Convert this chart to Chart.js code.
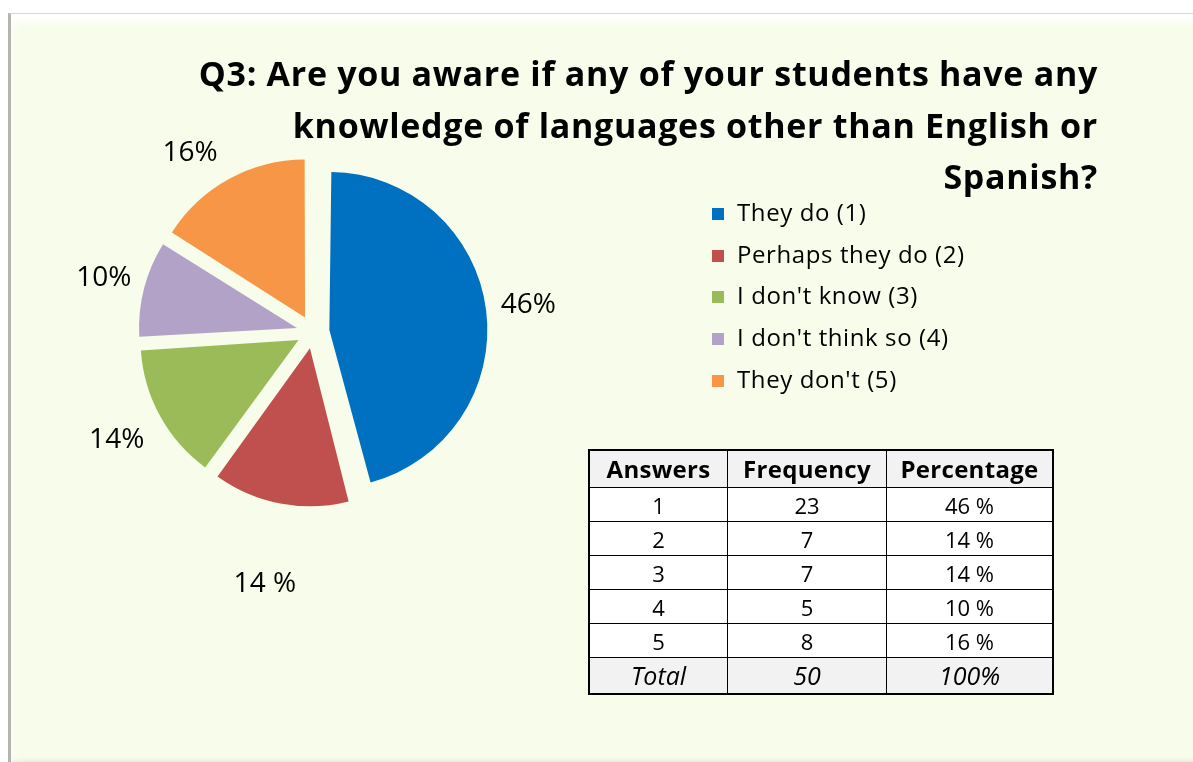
<!DOCTYPE html>
<html>
<head>
<meta charset="utf-8">
<script src="https://cdn.jsdelivr.net/npm/chart.js@4"></script>
<style>
  html, body { margin: 0; padding: 0; background: #fff; }
  body { width: 1193px; height: 762px; position: relative; overflow: hidden; font-family: "Open Sans", Lato, sans-serif; color: #000; }
  #frame {
    position: absolute; left: 8px; top: 13px; width: 1190px; height: 752px;
    background: #f7fdea;
    border-top: 1px solid #d8d8d0; border-left: 3px solid #b4b6ae;
    box-shadow: inset 6px 12px 8px -4px #fff, inset 0 -6px 6px -3px #d0d4c4;
  }
  #pie { position: absolute; left: 0; top: 0; }
  #title {
    position: absolute; right: 95px; top: 48px; width: 1000px;
    text-align: right; font-weight: bold; font-size: 34px; letter-spacing: 0.7px; line-height: 51.5px;
  }
  #legend { position: absolute; left: 712px; top: 191px; margin: 0; padding: 0; list-style: none; font-size: 24px; letter-spacing: 0.6px; }
  #legend li { height: 41.7px; line-height: 41.7px; white-space: nowrap; }
  #legend span.box { display: inline-block; width: 12px; height: 12px; margin-right: 13px; vertical-align: 1px; }
  #tbl { position: absolute; left: 588px; top: 449px; border-collapse: collapse; border: 2px solid #000; }
  #tbl td, #tbl th { border: 1px solid #000; text-align: center; padding: 0; font-size: 22px; line-height: 1; }
  #tbl th { font-size: 24px; letter-spacing: 0.3px; background: #f2f2f2; height: 36px; }
  #tbl td { background: #fff; height: 33px; }
  #tbl tr.total td { background: #f2f2f2; font-style: italic; font-size: 25px; height: 35px; }
</style>
</head>
<body>
<div id="frame"></div>
<canvas id="pie" width="626" height="664"></canvas>
<div id="title">Q3: Are you aware if any of your students have any<br>knowledge of languages other than English or<br>Spanish?</div>
<ul id="legend"></ul>
<table id="tbl"></table>
<script>
// data
const categories = ["They do (1)", "Perhaps they do (2)", "I don't know (3)", "I don't think so (4)", "They don't (5)"];
const answers = ["1", "2", "3", "4", "5"];
const frequency = [23, 7, 7, 5, 8];
const pieLabels = ["46%", "14 %", "14%", "10%", "16%"];
const tablePct = ["46 %", "14 %", "14 %", "10 %", "16 %"];
const tableHead = ["Answers", "Frequency", "Percentage"];
const totalRow = ["Total", "50", "100%"];

// looks
const colors = ["#0070c0", "#c0504d", "#9bbb59", "#b3a2c7", "#f79646"];
const labelDist = [217, 257, 224, 216, 217];
const labelTurn = [0, 0, 0, 0, -0.1];
const GAP = 16.5; // how far each slice is pulled out

// Chart.js grows the radius of pulled-out slices by offset*fix, undo that so all slices stay the same size
const evenOffset = {
  id: 'evenOffset',
  beforeDatasetsDraw(chart) {
    const meta = chart.getDatasetMeta(0);
    const base = meta.controller.outerRadius;
    meta.data.forEach(arc => {
      const fix = 1 - Math.sin(Math.min(Math.PI, arc.circumference));
      arc.outerRadius = base - GAP * fix;
    });
  }
};

const sliceLabels = {
  id: 'sliceLabels',
  afterDatasetsDraw(chart) {
    const ctx = chart.ctx;
    const meta = chart.getDatasetMeta(0);
    ctx.save();
    ctx.font = '28px "Open Sans", Lato, sans-serif';
    ctx.fillStyle = '#000';
    ctx.textAlign = 'center';
    ctx.textBaseline = 'middle';
    meta.data.forEach((arc, i) => {
      const a = (arc.startAngle + arc.endAngle) / 2 + labelTurn[i];
      ctx.fillText(pieLabels[i], arc.x + Math.cos(a) * labelDist[i], arc.y + Math.sin(a) * labelDist[i]);
    });
    ctx.restore();
  }
};

new Chart(document.getElementById('pie'), {
  type: 'pie',
  data: {
    labels: categories,
    datasets: [{
      data: frequency,
      backgroundColor: colors,
      borderWidth: 0,
      offset: GAP * 4
    }]
  },
  options: {
    responsive: false,
    animation: false,
    events: [],
    radius: 158,
    plugins: { legend: { display: false }, tooltip: { enabled: false } }
  },
  plugins: [evenOffset, sliceLabels]
});

// legend
const lg = document.getElementById('legend');
categories.forEach((c, i) => {
  const li = document.createElement('li');
  li.innerHTML = '<span class="box" style="background:' + colors[i] + '"></span>' + c;
  lg.appendChild(li);
});

// table
const tbl = document.getElementById('tbl');
const widths = [137, 158, 165];
let html = '<tr>' + tableHead.map((h, i) => '<th style="width:' + widths[i] + 'px">' + h + '</th>').join('') + '</tr>';
answers.forEach((a, i) => {
  html += '<tr><td>' + a + '</td><td>' + frequency[i] + '</td><td>' + tablePct[i] + '</td></tr>';
});
html += '<tr class="total">' + totalRow.map(t => '<td>' + t + '</td>').join('') + '</tr>';
tbl.innerHTML = html;
</script>
</body>
</html>
